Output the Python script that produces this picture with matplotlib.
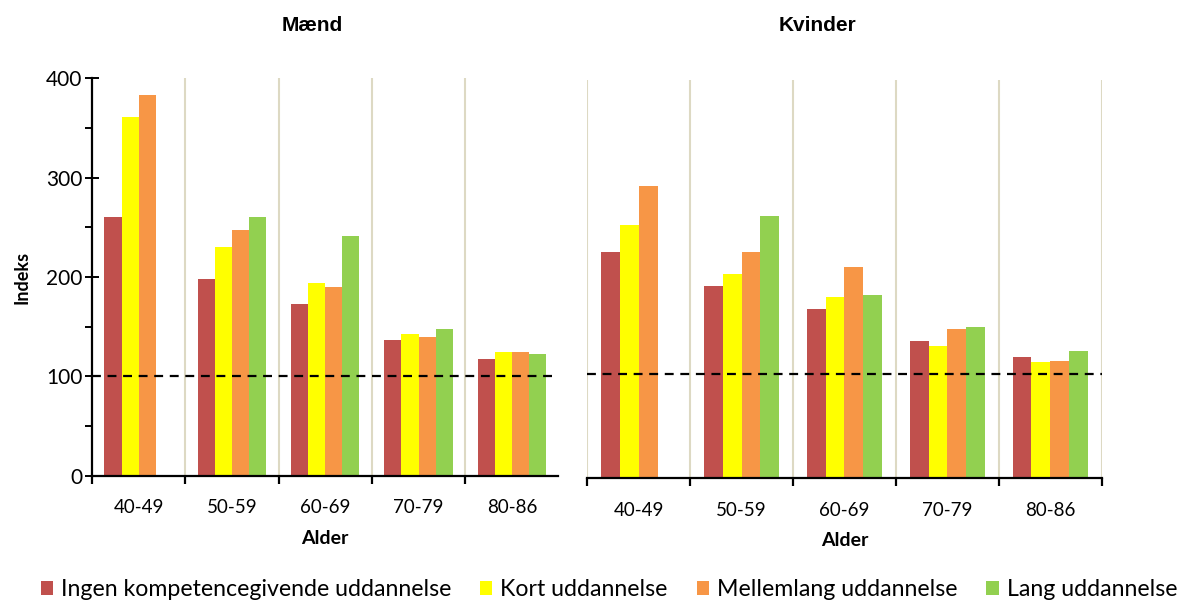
import numpy as np
import matplotlib.pyplot as plt
from matplotlib.patches import Patch
from matplotlib.ticker import MultipleLocator

# Indeks efter alder og uddannelse, mænd og kvinder
age_groups = ["40-49", "50-59", "60-69", "70-79", "80-86"]
education = ["Ingen kompetencegivende uddannelse", "Kort uddannelse",
             "Mellemlang uddannelse", "Lang uddannelse"]
colors = ["#C0504D", "#FFFF00", "#F79646", "#92D050"]

men = {
    "Ingen kompetencegivende uddannelse": [260, 198, 173, 137, 117],
    "Kort uddannelse": [361, 230, 194, 143, 125],
    "Mellemlang uddannelse": [383, 247, 190, 140, 125],
    "Lang uddannelse": [np.nan, 260, 241, 148, 122],
}
women = {
    "Ingen kompetencegivende uddannelse": [227, 193, 170, 138, 122],
    "Kort uddannelse": [254, 205, 182, 133, 117],
    "Mellemlang uddannelse": [293, 227, 212, 150, 118],
    "Lang uddannelse": [np.nan, 263, 184, 152, 128],
}
# stiplet referencelinje (indeks 100)
ref_men = 100
ref_women = 104.5

plt.rcParams["font.family"] = ["Lato", "DejaVu Sans"]

fig = plt.figure(figsize=(11.79, 6.01), dpi=100)
ax1 = fig.add_axes([0.078, 0.2085, 0.3957, 0.6612])
ax2 = fig.add_axes([0.4981, 0.2047, 0.4363, 0.6622])

grid_color = "#DDD9C3"
bar_w = 0.183
x = np.arange(len(age_groups))


def draw_panel(ax, data, ref, show_y):
    for i, (name, col) in enumerate(zip(education, colors)):
        offs = (i - 1.5) * bar_w
        ax.bar(x + offs, data[name], width=bar_w, color=col, edgecolor="none")
    ax.set_xlim(-0.5, len(age_groups) - 0.5)
    ax.set_ylim(0, 400)
    # lodrette skillelinjer mellem aldersgrupper
    if show_y:
        bounds = np.arange(0.5, len(age_groups) - 1, 1.0)
    else:
        bounds = np.arange(-0.5, len(age_groups), 1.0)
    for b in bounds:
        ax.axvline(b, color=grid_color, lw=1.5, zorder=0)
    ax.axhline(ref, color="black", ls=(0, (4, 3)), lw=1.6, zorder=3)

    ax.set_xticks(x)
    ax.set_xticklabels(age_groups, fontsize=13.5)
    ax.set_xticks(np.arange(-0.5, len(age_groups) - (0.5 if show_y else -0.5), 1.0), minor=True)
    ax.tick_params(axis="x", which="major", length=0, pad=17)
    ax.tick_params(axis="x", which="minor", length=6, width=1.6, direction="out")
    for s in ["top", "right"]:
        ax.spines[s].set_visible(False)
    ax.spines["bottom"].set_linewidth(1.6)
    if show_y:
        ax.yaxis.set_major_locator(MultipleLocator(100))
        ax.yaxis.set_minor_locator(MultipleLocator(50))
        ax.tick_params(axis="y", which="major", direction="inout", length=10,
                       width=1.4, labelsize=15, pad=2)
        ax.tick_params(axis="y", which="minor", direction="out", length=5, width=1.4)
        ax.spines["left"].set_linewidth(1.6)
        ax.set_ylabel("Indeks", fontsize=13, fontweight="bold", labelpad=11)
    else:
        ax.spines["left"].set_visible(False)
        ax.set_yticks([])
    ax.set_xlabel("Alder", fontsize=14, fontweight="bold", labelpad=10)


draw_panel(ax1, men, ref_men, True)
draw_panel(ax2, women, ref_women, False)

fig.text(0.2646, 0.958, "Mænd", ha="center", va="center", fontsize=15,
         fontweight="bold", family="Liberation Sans")
fig.text(0.693, 0.958, "Kvinder", ha="center", va="center", fontsize=15,
         fontweight="bold", family="Liberation Sans")

handles = [Patch(facecolor=c, edgecolor="none", label=n) for n, c in zip(education, colors)]
fig.legend(handles=handles, loc="lower center", bbox_to_anchor=(0.5165, 0.001), ncol=4,
           frameon=False, fontsize=16.7, handlelength=0.52, handleheight=0.52,
           handletextpad=0.35, columnspacing=1.25, borderaxespad=0, borderpad=0)

fig.savefig("out.png", dpi=100)
